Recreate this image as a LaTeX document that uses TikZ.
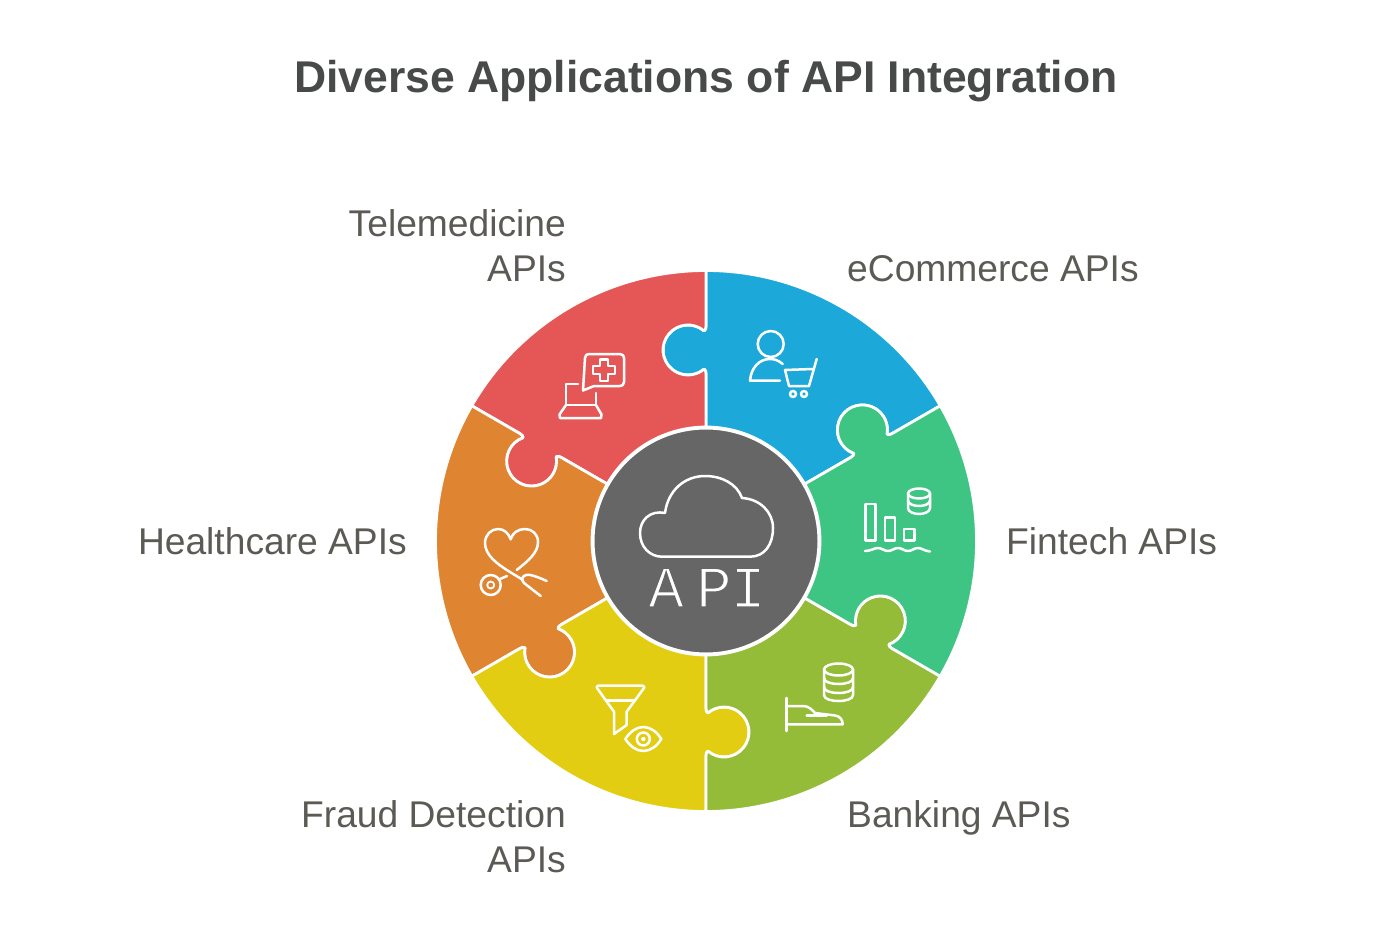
\documentclass[tikz,border=0pt]{standalone}
\usepackage{fontspec}
\setmainfont{Liberation Sans}
\newfontfamily\apifont{Liberation Mono}
\definecolor{cblue}{HTML}{1DA8DA}
\definecolor{cred}{HTML}{E55757}
\definecolor{corange}{HTML}{DF8431}
\definecolor{cyellow}{HTML}{E2CD13}
\definecolor{colive}{HTML}{94BC38}
\definecolor{cgreen}{HTML}{3EC583}
\definecolor{ccore}{HTML}{666666}
\definecolor{ctitle}{HTML}{484A4A}
\definecolor{clabel}{HTML}{5C5A55}
\tikzset{
  piece/.style={draw=white,line width=2.8pt,line join=round},
  icon/.style={draw=white,line width=2.5pt,line cap=round,line join=round},
  lab/.style={text=clabel,font=\fontsize{37.2}{45}\selectfont,inner sep=0pt},
}
\begin{document}
\begin{tikzpicture}[x=1pt,y=-1pt]
\useasboundingbox (0,0) rectangle (1388,936);
\fill[white] (0,0) rectangle (1388,936);
% puzzle ring
\foreach \r/\c in {0/cblue,60/cred,120/corange,180/cyellow,240/colive,300/cgreen}{
\begin{scope}[shift={(706,541)},rotate=\r]
\path[piece,fill=\c]
  (0,-114) -- (0,-167) .. controls (0,-170) and (-0.5,-170.5) .. (-1.93,-171.85)
  arc[start angle=50,end angle=310,radius=25]
  .. controls (-0.5,-211.5) and (0,-212) .. (0,-215) -- (0,-270.5)
  arc[start angle=-90,end angle=-30,radius=270.5]
  -- (186.2,-107.5) .. controls (183.6,-106) and (182.91,-106.18) .. (181.03,-106.75)
  arc[start angle=370,end angle=110,radius=25]
  .. controls (147.4,-85.68) and (147.2,-85) .. (144.6,-83.5)
  -- (98.7,-57) arc[start angle=-30,end angle=-90,radius=114] -- cycle;
\end{scope}}
% core
\node[circle,draw=white,fill=ccore,line width=3pt,minimum size=226pt,inner sep=0pt] (core) at (706,541) {};
% cloud
\draw[icon] (662,556.7) -- (750,556.7) .. controls (765,556.7) and (773,544) .. (773,528)
  .. controls (773,512) and (760,499) .. (742,498)
  .. controls (737,484) and (722,476) .. (705,476)
  .. controls (685,476) and (668,490) .. (665,513)
  .. controls (650,510) and (640,520) .. (640,533)
  .. controls (640,547) and (650,556.7) .. (662,556.7) -- cycle;
\node[text=white,font=\apifont\fontsize{59}{59}\selectfont,inner sep=0pt,anchor=base] (api) at (707,607) {\special{pdf:code 2 Tr 1.5 w 0.4 0.4 0.4 RG}A\kern12.5pt P\kern-1.5pt I\special{pdf:code 0 Tr}};
% telemedicine
\draw[icon] (583,390.5) -- (585,358) .. controls (585,355) and (587,354) .. (589,354) -- (620,354)
  .. controls (623,354) and (624,356) .. (624,358) -- (624,382) .. controls (624,385) and (622,386) .. (620,386) -- (594,386) -- cycle;
\draw[icon] (600,359.5) -- (608,359.5) -- (608,366) -- (615,366) -- (615,374) -- (608,374) -- (608,381) -- (600,381) -- (600,374) -- (593,374) -- (593,366) -- (600,366) -- cycle;
\draw[icon] (578,384) -- (566,384) -- (566,405) -- (596,405) -- (596,393);
\draw[icon] (566,405) -- (559.5,414.5) -- (560,418) -- (601,418) -- (601.5,414.5) -- (596,405);
% ecommerce
\draw[icon] (770.7,344) circle[radius=13];
\draw[icon] (782.7,364) .. controls (778,360) and (774,359) .. (770,359) .. controls (759,359) and (751,368) .. (750,380.7) -- (780,380.7);
\draw[icon] (816.7,359) -- (809,386) -- (789,386) -- (785,370) -- (812.7,369);
\draw[icon] (793,394) circle[radius=3];
\draw[icon] (804,394) circle[radius=3];
% fintech
\draw[icon] (865.7,504) rectangle (875.7,540.7);
\draw[icon] (885,517.3) rectangle (895,540.7);
\draw[icon] (904,529) rectangle (914.3,540.7);
\draw[icon] (865,551) .. controls (871,551) and (874,548) .. (878,548) .. controls (882,548) and (884,551) .. (888,551)
 .. controls (892,551) and (894,548) .. (898,548) .. controls (902,548) and (904,551) .. (908,551)
 .. controls (912,551) and (914,548) .. (918,548) .. controls (922,548) and (924,551) .. (930,551.5);
\draw[icon] (919,493.5) ellipse[x radius=11,y radius=5];
\draw[icon] (908,493.5) -- (908,508) .. controls (908,512) and (914,514) .. (919,514) .. controls (924,514) and (930,512) .. (930,508) -- (930,493.5);
\draw[icon] (908,500.5) .. controls (908,504) and (914,506) .. (919,506) .. controls (924,506) and (930,504) .. (930,500.5);
% banking
\draw[icon] (838.5,669.5) ellipse[x radius=14.5,y radius=6];
\draw[icon] (824,669.5) -- (824,695) .. controls (824,699) and (831,701) .. (838.5,701) .. controls (846,701) and (853,699) .. (853,695) -- (853,669.5);
\draw[icon] (824,678) .. controls (824,682) and (831,684) .. (838.5,684) .. controls (846,684) and (853,682) .. (853,678);
\draw[icon] (824,687) .. controls (824,691) and (831,693) .. (838.5,693) .. controls (846,693) and (853,691) .. (853,687);
\draw[icon] (786.7,698) -- (786.7,731);
\draw[icon] (786.7,706) -- (803,706) .. controls (809,706) and (812,710) .. (815,713) -- (835,715.5) .. controls (840,716) and (842.7,720) .. (842.7,724.3) -- (786.7,724.3);
\draw[icon] (806.7,715.7) -- (826.7,715.7);
% fraud detection
\draw[icon] (598,685.7) -- (642.5,685.7) .. controls (644,685.7) and (644.5,687) .. (644,688) -- (626.7,711.7) -- (626.7,725) -- (614,734) -- (614,711.7) -- (597,688) .. controls (596.5,687) and (597,685.7) .. (598,685.7) -- cycle;
\draw[icon] (606.7,700.7) -- (634,700.7);
\draw[icon] (625.3,739) .. controls (630,732) and (636,727) .. (643.3,727) .. controls (650.6,727) and (657,732) .. (661.3,739)
  .. controls (657,746) and (650.6,751) .. (643.3,751) .. controls (636,751) and (630,746) .. (625.3,739) -- cycle;
\draw[icon] (643.3,739) circle[radius=6.5];
\fill[white] (643.3,739) circle[radius=2.2];
% healthcare
\draw[icon] (516.7,570) .. controls (528,561) and (538,553) .. (538,542) .. controls (538,534) and (532,529) .. (525,529)
  .. controls (518,529) and (512.5,533) .. (510.7,539.3) .. controls (508.5,533) and (504,529) .. (498,529)
  .. controls (491,529) and (485,535) .. (485,543) .. controls (485,555) and (497,564) .. (510,572) -- (523,580);
\draw[icon] (546.7,581) .. controls (538,577) and (530,574) .. (526,575) .. controls (522,576) and (521,580) .. (524,583) -- (540.7,596);
\draw[icon] (490.7,585) circle[radius=10];
\draw[icon,line width=1.8pt] (490.7,585) circle[radius=3.5];
\draw[icon] (500,579) -- (507,576);
% title and labels
\node[text=ctitle,font=\bfseries\fontsize{44.5}{54}\selectfont,inner sep=0pt,anchor=base] (title) at (706,93) {Diverse Applications of API Integration};
\node[lab,anchor=base east,align=right] (tele) at (566,281) {Telemedicine\\APIs};
\node[lab,anchor=base west] (ecom) at (847,281) {eCommerce APIs};
\node[lab,anchor=base west] (fin) at (1006,554) {Fintech APIs};
\node[lab,anchor=base east] (health) at (407,554) {Healthcare APIs};
\node[lab,anchor=base west] (bank) at (847,827) {Banking APIs};
\node[lab,anchor=base east,align=right] (fraud) at (566,872) {Fraud Detection\\APIs};
\end{tikzpicture}
\end{document}
